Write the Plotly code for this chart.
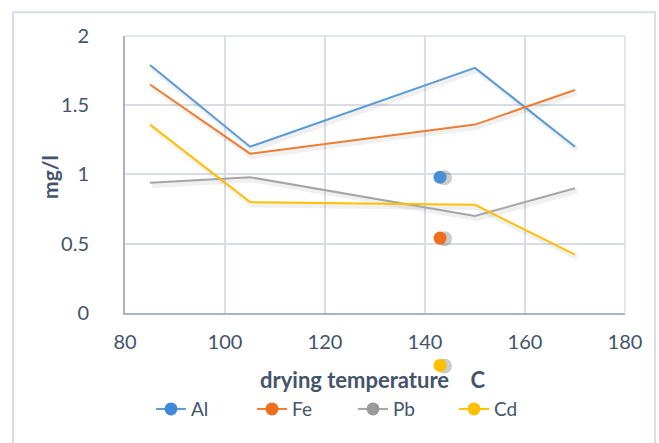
import plotly.graph_objects as go

temps = [85, 105, 150, 170]
al = [1.79, 1.20, 1.77, 1.20]
fe = [1.65, 1.15, 1.36, 1.61]
pb = [0.94, 0.98, 0.70, 0.90]
cd = [1.36, 0.80, 0.78, 0.42]

stray_x = [143, 143, 143]
stray_y = [0.98, 0.54, -0.38]
stray_colors = ["#4A8FD4", "#EE6E1C", "#FFC000"]

names = ["Al", "Fe", "Pb", "Cd"]
series = [al, fe, pb, cd]
colors = ["#5B9BD5", "#ED7D31", "#A5A5A5", "#FFC000"]
marker_colors = ["#3E8AD6", "#EE6E1C", "#9A9A9A", "#FFC000"]

FONT = "Lato"
TXT = "#44546A"

W, H = 659, 443
L, R, T, B = 125, 34, 36, 20
PW, PH = W - L - R, H - T - B
AX_BOTTOM = 315  # pixel row of y=0


def px(xp):
    return (xp - L) / PW


def py(yp):
    return (H - B - yp) / PH


ydom0 = py(AX_BOTTOM)
units_per_px = 2.0 / (AX_BOTTOM - T)
y2_low = 2.0 - PH * units_per_px

fig = go.Figure()

# soft shadows under lines
for ys in series:
    fig.add_trace(go.Scatter(
        x=[t + 0.4 for t in temps], y=[v - 0.02 for v in ys],
        mode="lines", line=dict(color="rgba(0,0,0,0.06)", width=5),
        showlegend=False, hoverinfo="skip"))

for n, ys, c, mc in zip(names, series, colors, marker_colors):
    fig.add_trace(go.Scatter(
        x=temps, y=ys, name=n, mode="lines",
        line=dict(color=c, width=2),
        showlegend=False))
    fig.add_trace(go.Scatter(
        x=[None], y=[None], name=n, mode="lines+markers",
        line=dict(color=c, width=2),
        marker=dict(color=mc, size=13),
        showlegend=True))

# stray markers (with shadow), on an invisible full-height axis pair with equal scale
fig.add_trace(go.Scatter(
    x=[x + 0.9 for x in stray_x], y=[y - 0.004 for y in stray_y], mode="markers",
    marker=dict(color="rgba(0,0,0,0.2)", size=15),
    xaxis="x2", yaxis="y2", showlegend=False, hoverinfo="skip"))
fig.add_trace(go.Scatter(
    x=stray_x, y=stray_y, mode="markers",
    marker=dict(color=stray_colors, size=13),
    xaxis="x2", yaxis="y2", showlegend=False))

fig.update_layout(
    width=W, height=H,
    margin=dict(l=L, r=R, t=T, b=B),
    paper_bgcolor="white", plot_bgcolor="rgba(0,0,0,0)",
    font=dict(family=FONT, color=TXT),
    showlegend=True,
    legend=dict(orientation="h", x=px(151), xanchor="left", y=py(412), yanchor="middle",
                font=dict(family=FONT, size=19, color=TXT),
                entrywidth=56, entrywidthmode="pixels",
                bgcolor="rgba(0,0,0,0)"),
    xaxis=dict(range=[80, 180], dtick=20, tick0=80, domain=[0, 1], showgrid=True, gridcolor="#D9DEE6",
               gridwidth=1.5, showline=True, linecolor="#A9B4C6", linewidth=2,
               zeroline=False, ticks="", tickfont=dict(family=FONT, size=20, color=TXT),
               ticklabelstandoff=10, anchor="y"),
    yaxis=dict(range=[0, 2], dtick=0.5, domain=[ydom0, 1], showgrid=True, gridcolor="#D9DEE6",
               gridwidth=1.5, showline=True, linecolor="#A9B4C6", linewidth=2,
               zeroline=False, ticks="", tickfont=dict(family=FONT, size=20, color=TXT),
               ticklabelstandoff=30, anchor="x"),
    xaxis2=dict(range=[80, 180], domain=[0, 1], visible=False, anchor="y2"),
    yaxis2=dict(range=[y2_low, 2], domain=[0, 1], visible=False, anchor="x2"),
    shapes=[
        dict(type="rect", xref="paper", yref="paper", x0=px(13), x1=px(655), y0=py(460), y1=py(12),
             line=dict(color="#D9DEE6", width=2), fillcolor="rgba(0,0,0,0)", layer="below"),
        dict(type="line", xref="paper", yref="paper", x0=0, x1=1, y0=1, y1=1,
             line=dict(color="#D9DEE6", width=1.5)),
        dict(type="line", xref="paper", yref="paper", x0=1, x1=1, y0=ydom0, y1=1,
             line=dict(color="#D9DEE6", width=1.5)),
    ],
    annotations=[
        dict(text="<b>drying temperature \u00a0\u00a0 C</b>", xref="paper", yref="paper",
             x=px(372), y=py(382), xanchor="center", yanchor="middle", showarrow=False,
             font=dict(family=FONT, size=22, color=TXT)),
        dict(text="<b>mg/l</b>", xref="paper", yref="paper", textangle=-90,
             x=px(50), y=py(178), xanchor="center", yanchor="middle", showarrow=False,
             font=dict(family=FONT, size=21, color=TXT)),
    ],
)

fig.write_html("out.html")
